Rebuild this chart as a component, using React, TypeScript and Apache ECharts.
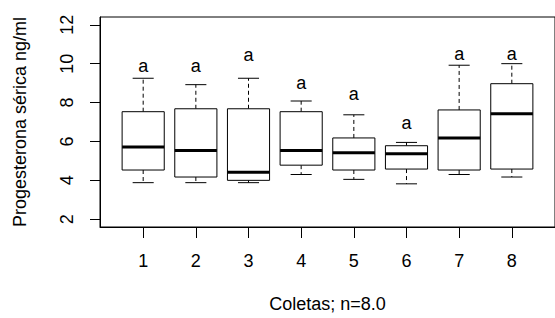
import React, { useEffect, useRef } from "react";
import * as echarts from "echarts";

const categories = [1, 2, 3, 4, 5, 6, 7, 8];
const whiskerLow = [3.88, 3.88, 3.88, 4.3, 4.05, 3.82, 4.3, 4.17];
const quartile1 = [4.53, 4.17, 4.0, 4.78, 4.53, 4.58, 4.53, 4.58];
const medians = [5.72, 5.53, 4.42, 5.53, 5.42, 5.37, 6.18, 7.42];
const quartile3 = [7.53, 7.68, 7.68, 7.53, 6.18, 5.78, 7.62, 8.97];
const whiskerHigh = [9.25, 8.92, 9.25, 8.08, 7.37, 5.95, 9.92, 10.0];
const groupLetters = ["a", "a", "a", "a", "a", "a", "a", "a"];
const letterY = [9.9, 9.9, 10.45, 9.0, 8.45, 6.97, 10.5, 10.5];
const yTicks = [2, 4, 6, 8, 10, 12];

const FONT = "'Liberation Sans', Arial, sans-serif";
const FS = 18;

export default function App() {
  const ref = useRef<HTMLDivElement>(null);
  useEffect(() => {
    if (!ref.current) return;
    const chart = echarts.init(ref.current, null, { renderer: "svg" });
    const boxData = categories.map((c, i) => [
      c,
      whiskerLow[i],
      quartile1[i],
      medians[i],
      quartile3[i],
      whiskerHigh[i],
    ]);
    const letterData = categories.map((c, i) => [c, letterY[i], i]);
    chart.setOption({
      animation: false,
      backgroundColor: "#fff",
      grid: {
        left: 100,
        top: 17,
        width: 461,
        height: 215,
        show: true,
        borderColor: "#000",
        borderWidth: 1,
        backgroundColor: "transparent",
      },
      xAxis: {
        type: "value",
        min: 0.18,
        max: 8.82,
        name: "Coletas; n=8.0",
        nameLocation: "middle",
        nameGap: 68,
        nameTextStyle: { fontFamily: FONT, fontSize: FS, color: "#000" },
        axisLine: { show: true, lineStyle: { color: "#000", width: 1 } },
        axisTick: {
          show: true,
          customValues: categories,
          length: 11,
          lineStyle: { color: "#000", width: 1 },
        },
        axisLabel: {
          customValues: categories,
          margin: 25,
          fontFamily: FONT,
          fontSize: FS,
          color: "#000",
        },
        splitLine: { show: false },
      },
      yAxis: {
        type: "value",
        min: 1.6,
        max: 12.4,
        name: "Progesterona sérica ng/ml",
        nameLocation: "middle",
        nameGap: 71,
        nameTextStyle: { fontFamily: FONT, fontSize: FS, color: "#000" },
        axisLine: { show: true, lineStyle: { color: "#000", width: 1 } },
        axisTick: {
          show: true,
          customValues: yTicks,
          length: 10,
          lineStyle: { color: "#000", width: 1 },
        },
        axisLabel: {
          customValues: yTicks,
          rotate: 90,
          margin: 24,
          fontFamily: FONT,
          fontSize: FS,
          color: "#000",
        },
        splitLine: { show: false },
      },
      series: [
        {
          type: "custom",
          data: boxData,
          encode: { x: 0, y: [1, 2, 3, 4, 5] },
          renderItem: (params: any, api: any) => {
            const x = api.value(0);
            const lo = api.coord([x, api.value(1)]);
            const q1 = api.coord([x, api.value(2)]);
            const md = api.coord([x, api.value(3)]);
            const q3 = api.coord([x, api.value(4)]);
            const hi = api.coord([x, api.value(5)]);
            const bw = api.size([0.8, 0])[0];
            const cw = api.size([0.4, 0])[0];
            const cx = lo[0];
            const stroke = { stroke: "#000", lineWidth: 1, fill: "none" };
            const dashed = { stroke: "#000", lineWidth: 1, lineDash: [4, 3] };
            return {
              type: "group",
              children: [
                { type: "line", shape: { x1: cx, y1: q3[1], x2: cx, y2: hi[1] }, style: dashed },
                { type: "line", shape: { x1: cx, y1: q1[1], x2: cx, y2: lo[1] }, style: dashed },
                { type: "line", shape: { x1: cx - cw / 2, y1: hi[1], x2: cx + cw / 2, y2: hi[1] }, style: stroke },
                { type: "line", shape: { x1: cx - cw / 2, y1: lo[1], x2: cx + cw / 2, y2: lo[1] }, style: stroke },
                {
                  type: "rect",
                  shape: { x: cx - bw / 2, y: q3[1], width: bw, height: q1[1] - q3[1] },
                  style: { stroke: "#000", lineWidth: 1, fill: "#fff" },
                },
                {
                  type: "line",
                  shape: { x1: cx - bw / 2, y1: md[1], x2: cx + bw / 2, y2: md[1] },
                  style: { stroke: "#000", lineWidth: 3 },
                },
              ],
            };
          },
        },
        {
          type: "custom",
          data: letterData,
          encode: { x: 0, y: 1 },
          renderItem: (params: any, api: any) => {
            const p = api.coord([api.value(0), api.value(1)]);
            return {
              type: "text",
              x: p[0],
              y: p[1],
              style: {
                text: groupLetters[api.value(2)],
                align: "center",
                verticalAlign: "middle",
                fontFamily: FONT,
                fontSize: FS,
                fill: "#000",
              },
            };
          },
        },
      ],
    });
    return () => chart.dispose();
  }, []);
  return (
    <div
      ref={ref}
      style={{ position: "absolute", left: 0, top: 0, width: 555, height: 318 }}
    />
  );
}
